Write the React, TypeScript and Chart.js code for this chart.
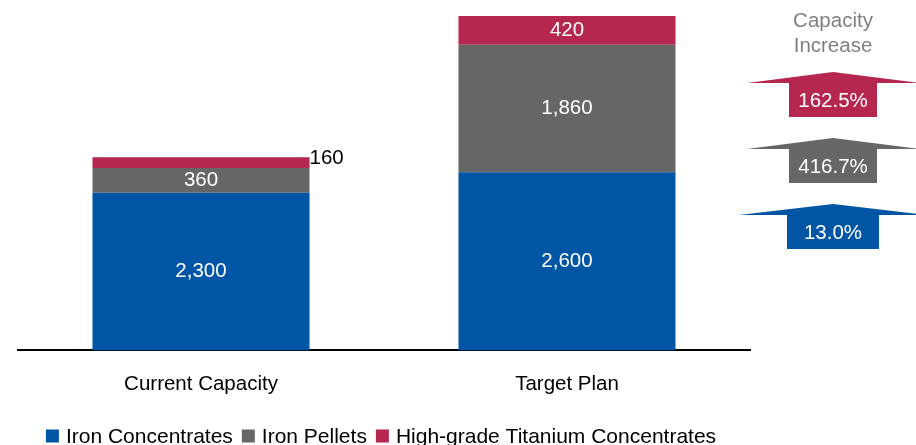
import React, { useEffect, useRef } from "react";
import { Chart, registerables } from "chart.js";

Chart.register(...registerables);

const categories = ["Current Capacity", "Target Plan"];
const seriesNames = ["Iron Concentrates", "Iron Pellets", "High-grade Titanium Concentrates"];
const ironConcentrates = [2300, 2600];
const ironPellets = [360, 1860];
const titaniumConcentrates = [160, 420];
const colors = ["#0055A5", "#666666", "#B5274E"];
const sideTitle = ["Capacity", "Increase"];

const FONT = "'Liberation Sans', Arial, sans-serif";

const fmt = (v: number) => v.toLocaleString("en-US");

const overlay = {
  id: "overlay",
  afterDatasetsDraw(chart: any) {
    const ctx = chart.ctx as CanvasRenderingContext2D;
    const area = chart.chartArea;
    ctx.save();
    // data labels
    chart.data.datasets.forEach((ds: any, di: number) => {
      const meta = chart.getDatasetMeta(di);
      meta.data.forEach((bar: any, i: number) => {
        const v = ds.data[i];
        const h = Math.abs(bar.base - bar.y);
        ctx.font = `20.5px ${FONT}`;
        ctx.textBaseline = "middle";
        if (h < 20) {
          ctx.fillStyle = "#000";
          ctx.textAlign = "left";
          ctx.fillText(fmt(v), bar.x + bar.width / 2, bar.y + 1);
        } else {
          ctx.fillStyle = "#fff";
          ctx.textAlign = "center";
          ctx.fillText(fmt(v), bar.x, (bar.y + bar.base) / 2);
        }
      });
    });

    // side title
    ctx.fillStyle = "#7F7F7F";
    ctx.font = `20.5px ${FONT}`;
    ctx.textAlign = "center";
    ctx.textBaseline = "middle";
    ctx.fillText(sideTitle[0], 833, 21);
    ctx.fillText(sideTitle[1], 833, 46);

    // increase arrows (top: titanium, middle: pellets, bottom: iron concentrates)
    const series = [titaniumConcentrates, ironPellets, ironConcentrates];
    const cols = [colors[2], colors[1], colors[0]];
    const tips = [72, 138, 204];
    const headHalf = [86, 86, 94];
    const bodyHalf = [44, 44, 46];
    series.forEach((s, k) => {
      const pct = ((s[1] - s[0]) / s[0]) * 100;
      const cx = 833;
      const tip = tips[k];
      const base = tip + 11;
      const bottom = base + 34;
      ctx.fillStyle = cols[k];
      ctx.beginPath();
      ctx.moveTo(cx, tip);
      ctx.lineTo(cx + headHalf[k], base);
      ctx.lineTo(cx + bodyHalf[k], base);
      ctx.lineTo(cx + bodyHalf[k], bottom);
      ctx.lineTo(cx - bodyHalf[k], bottom);
      ctx.lineTo(cx - bodyHalf[k], base);
      ctx.lineTo(cx - headHalf[k], base);
      ctx.closePath();
      ctx.fill();
      ctx.fillStyle = "#fff";
      ctx.font = `20.5px ${FONT}`;
      ctx.textAlign = "center";
      ctx.textBaseline = "middle";
      ctx.fillText(pct.toFixed(1) + "%", cx, (base + bottom) / 2 + 1);
    });

    // legend
    ctx.font = `21px ${FONT}`;
    const box = 13;
    const gapBoxText = 7;
    const gapItems = 9;
    const widths = seriesNames.map((n) => box + gapBoxText + ctx.measureText(n).width);
    const total = widths.reduce((a, b) => a + b, 0) + gapItems * (seriesNames.length - 1);
    let x = (area.left + area.right) / 2 - total / 2 - 3;
    const y = 436;
    seriesNames.forEach((n, i) => {
      ctx.fillStyle = colors[i];
      ctx.fillRect(x, y - box / 2, box, box);
      ctx.fillStyle = "#000";
      ctx.textAlign = "left";
      ctx.textBaseline = "middle";
      ctx.fillText(n, x + box + gapBoxText, y + 1);
      x += widths[i] + gapItems;
    });
    ctx.restore();
  },
};

export default function App() {
  const ref = useRef<HTMLCanvasElement>(null);
  useEffect(() => {
    if (!ref.current) return;
    const chart = new Chart(ref.current, {
      type: "bar",
      data: {
        labels: categories,
        datasets: [
          { label: seriesNames[0], data: ironConcentrates, backgroundColor: colors[0] },
          { label: seriesNames[1], data: ironPellets, backgroundColor: colors[1] },
          { label: seriesNames[2], data: titaniumConcentrates, backgroundColor: colors[2] },
        ],
      },
      options: {
        responsive: false,
        animation: false,
        layout: { padding: { left: 18, right: 166, top: 16, bottom: 26 } },
        datasets: {
          bar: { categoryPercentage: 0.593, barPercentage: 1 },
        },
        plugins: {
          legend: { display: false },
          tooltip: { enabled: false },
        },
        scales: {
          x: {
            stacked: true,
            grid: { display: false, drawTicks: false },
            border: { display: true, color: "#000", width: 2 },
            ticks: { color: "#000", font: { size: 20.5, family: FONT }, padding: 22 },
          },
          y: {
            stacked: true,
            display: false,
            min: 0,
            max: 4880,
          },
        },
      },
      plugins: [overlay],
    });
    return () => chart.destroy();
  }, []);
  return (
    <div style={{ position: "fixed", left: 0, top: 0, width: 916, height: 445, background: "#fff" }}>
      <canvas ref={ref} width={916} height={445} style={{ width: 916, height: 445 }} />
    </div>
  );
}
